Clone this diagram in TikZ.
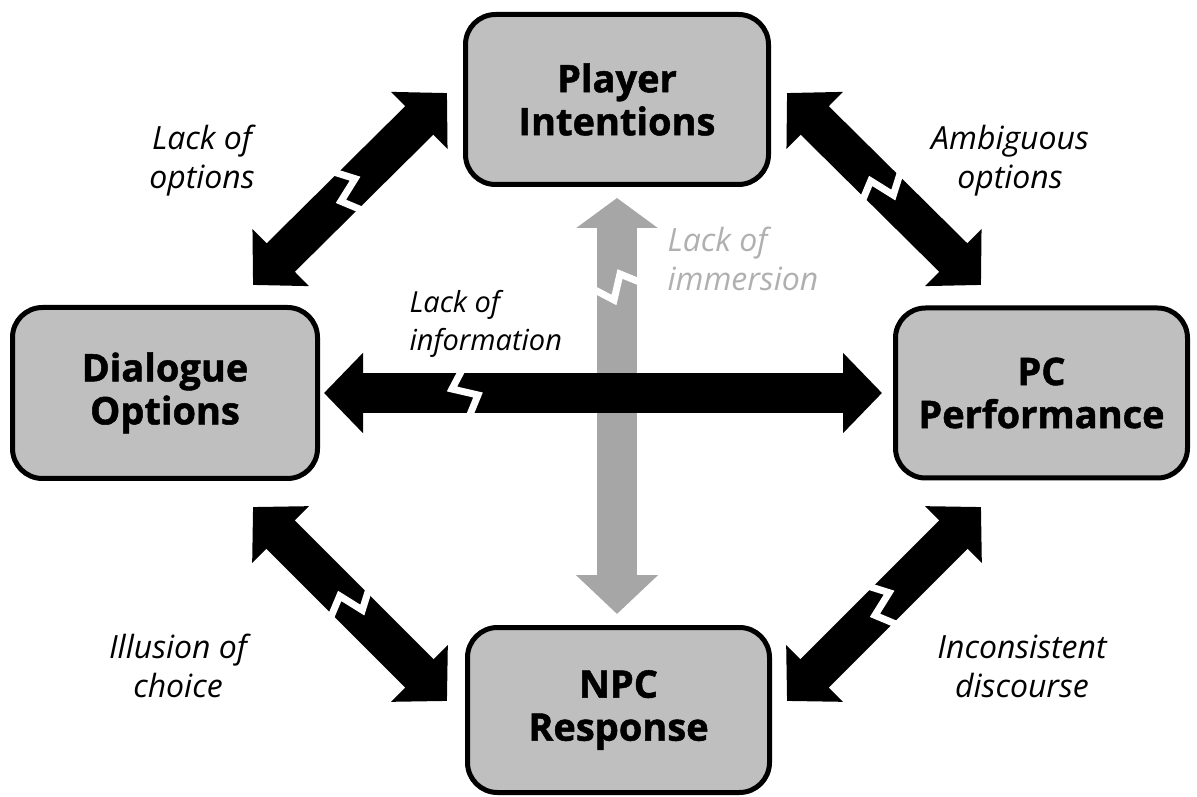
\documentclass[tikz,border=0pt]{standalone}
\usepackage{fontspec}
\setmainfont{Open Sans}[BoldFeatures={FakeBold=1.3}]
\usetikzlibrary{arrows.meta}
\definecolor{boxgray}{HTML}{BFBFBF}
\definecolor{arrowgray}{HTML}{A6A6A6}
\definecolor{labelgray}{HTML}{B0B0B0}
\tikzset{
  stage/.style={draw=black, line width=5pt, fill=boxgray, rounded corners=30pt, inner sep=0pt, align=center, font={\fontsize{38}{43}\selectfont\bfseries}},
  issue/.style={align=center, font={\fontsize{32}{39}\selectfont\itshape}},
  fat/.style={line width=40pt, {Triangle[length=39pt,width=78pt]}-{Triangle[length=39pt,width=78pt]}},
  zapline/.style={draw=white, line width=7pt, miter limit=20},
}
% white break mark across an arrow shaft
\newcommand{\zap}[3]{\draw[zapline, shift={#1}, rotate=#2, xscale=#3] (-2,24) -- (-13,3) -- (13,-3) -- (4,-25);}
\begin{document}
\begin{tikzpicture}[x=1pt, y=1pt, line join=miter]
	\useasboundingbox (0,0) rectangle (1197,796);
	% stages
	\node[stage, minimum width=303pt, minimum height=170pt] (pi) at (617,696.5) {Player\\Intentions};
	\node[stage, minimum width=305pt, minimum height=171pt] (dopt) at (165,403) {Dialogue\\Options};
	\node[stage, minimum width=292pt, minimum height=170pt] (pcp) at (1041.5,403) {PC\\Performance};
	\node[stage, minimum width=302pt, minimum height=165pt] (npc) at (618.5,86) {NPC\\Response};
	% ends of the diagonal arrows
	\coordinate (tl-a) at (253,511); \coordinate (tl-b) at (447,703);
	\coordinate (tr-a) at (787,703); \coordinate (tr-b) at (981,511);
	\coordinate (bl-a) at (253,289); \coordinate (bl-b) at (447,95);
	\coordinate (br-a) at (787,95);  \coordinate (br-b) at (981,289);
	% arrows
	\draw[line width=40pt, arrowgray, {Triangle[length=39pt,width=80pt]}-{Triangle[length=30pt,width=80pt]}, shorten <=11pt, shorten >=11pt] (npc.north -| pi.south) -- (pi.south);
	\draw[fat, shorten <=4pt, shorten >=11pt] (dopt.east) -- (dopt.east -| pcp.west);
	\draw[fat] (tl-a) -- (tl-b);
	\draw[fat] (tr-a) -- (tr-b);
	\draw[fat] (bl-a) -- (bl-b);
	\draw[fat] (br-a) -- (br-b);
	% breaks
	\zap{(465,404)}{0}{1}
	\zap{(617,509)}{90}{1}
	\zap{(348,606)}{45}{-1}
	\zap{(882,608)}{-45}{-1}
	\zap{(351,193)}{-45}{-1}
	\zap{(882,192)}{45}{-1}
	% labels
	\node[issue] (l-opt) at (202,635) {Lack of\\options};
	\node[issue] (l-amb) at (1010,635) {Ambiguous\\options};
	\node[issue, labelgray, align=left, anchor=west] (l-imm) at (664,537) {Lack of\\immersion};
	\node[issue, align=left, anchor=west, font={\fontsize{29}{38}\selectfont\itshape}] (l-inf) at (406,472) {Lack of\\information};
	\node[issue] (l-ill) at (178,130) {Illusion of\\choice};
	\node[issue] (l-inc) at (1022,130) {Inconsistent\\discourse};
\end{tikzpicture}
\end{document}
